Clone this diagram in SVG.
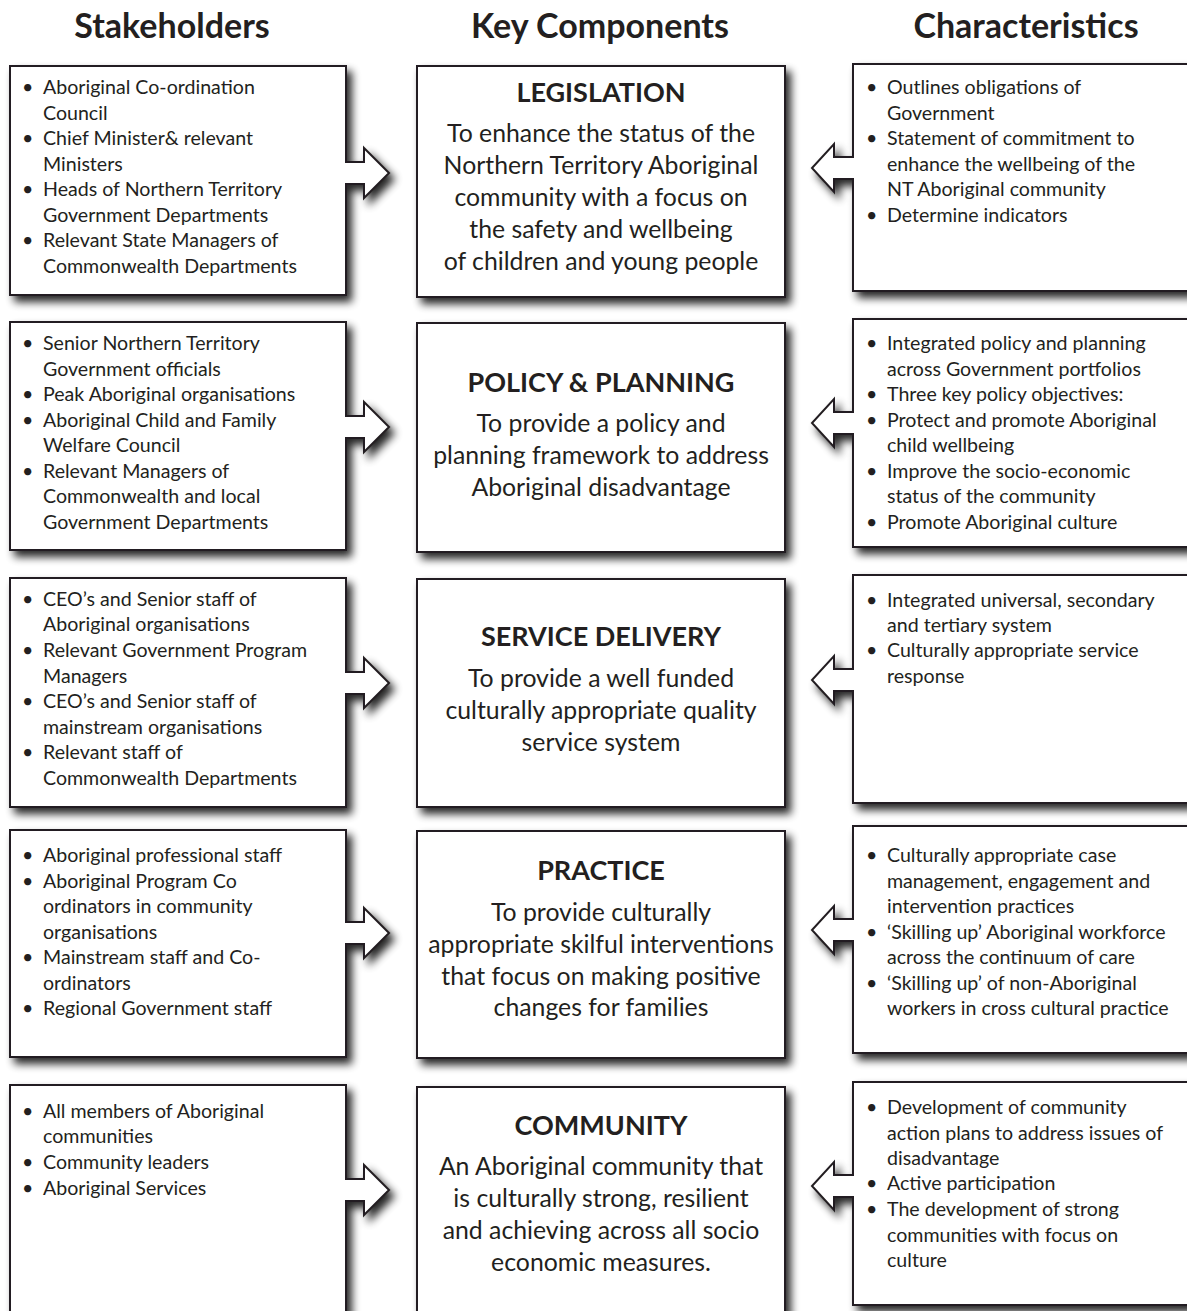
<svg xmlns="http://www.w3.org/2000/svg" width="1187" height="1311" viewBox="0 0 1187 1311">
<defs>
<filter id="sh" x="-10%" y="-10%" width="125%" height="125%">
<feGaussianBlur in="SourceAlpha" stdDeviation="4.5"/>
<feOffset dx="5" dy="6" result="b"/>
<feComponentTransfer><feFuncA type="linear" slope="0.85"/></feComponentTransfer>
<feMerge><feMergeNode/><feMergeNode in="SourceGraphic"/></feMerge>
</filter>
</defs>
<style>
.box{fill:#fff;stroke:#231f20;stroke-width:2;filter:url(#sh)}
text{font-family:Lato,"Open Sans","Liberation Sans",sans-serif;fill:#231f20}
.hd{font-size:34px;font-weight:bold;text-anchor:middle}
.li{font-size:19.6px}
.ti{font-size:27px;font-weight:bold;text-anchor:middle}
.bd{font-size:24.8px;text-anchor:middle}
</style>
<rect width="1187" height="1311" fill="#fff"/>
<g id="headers">
<text class="hd" x="172" y="38">Stakeholders</text>
<text class="hd" x="600" y="38">Key Components</text>
<text class="hd" x="1026" y="38">Characteristics</text>
</g>
<g id="connectors">
<path class="box" d="M10,66 H346 V162 H364 V148 L389,173 L364,198 V184 H346 V295 H10 Z"/>
<path class="box" d="M10,322 H346 V416 H364 V402 L389,427 L364,452 V438 H346 V550 H10 Z"/>
<path class="box" d="M10,578 H346 V672 H364 V658 L389,683 L364,708 V694 H346 V807 H10 Z"/>
<path class="box" d="M10,830 H346 V922 H364 V908 L389,933 L364,958 V944 H346 V1057 H10 Z"/>
<path class="box" d="M10,1085 H346 V1179 H364 V1165 L389,1190 L364,1215 V1201 H346 V1330 H10 Z"/>
<path class="box" d="M1192,64 H853 V157 H834 V144 L812,168 L834,192 V179 H853 V291 H1192 Z"/>
<path class="box" d="M1192,319 H853 V412 H834 V399 L812,423 L834,447 V434 H853 V547 H1192 Z"/>
<path class="box" d="M1192,575 H853 V669 H834 V656 L812,680 L834,704 V691 H853 V803 H1192 Z"/>
<path class="box" d="M1192,826 H853 V919 H834 V906 L812,930 L834,954 V941 H853 V1053 H1192 Z"/>
<path class="box" d="M1192,1082 H853 V1175 H834 V1162 L812,1186 L834,1210 V1197 H853 V1305 H1192 Z"/>
</g>
<g id="legislation">
<rect class="box" x="417" y="66" width="368" height="231"/>
<text class="ti" x="601" y="102">LEGISLATION</text>
<text class="bd" x="601" y="142">To enhance the status of the</text>
<text class="bd" x="601" y="174">Northern Territory Aboriginal</text>
<text class="bd" x="601" y="206">community with a focus on</text>
<text class="bd" x="601" y="238">the safety and wellbeing</text>
<text class="bd" x="601" y="270">of children and young people</text>
</g>
<g id="policy">
<rect class="box" x="417" y="323" width="368" height="229"/>
<text class="ti" x="601" y="392">POLICY &amp; PLANNING</text>
<text class="bd" x="601" y="432">To provide a policy and</text>
<text class="bd" x="601" y="464">planning framework to address</text>
<text class="bd" x="601" y="496">Aboriginal disadvantage</text>
</g>
<g id="service">
<rect class="box" x="417" y="579" width="368" height="228"/>
<text class="ti" x="601" y="646">SERVICE DELIVERY</text>
<text class="bd" x="601" y="687">To provide a well funded</text>
<text class="bd" x="601" y="719">culturally appropriate quality</text>
<text class="bd" x="601" y="751">service system</text>
</g>
<g id="practice">
<rect class="box" x="417" y="831" width="368" height="227"/>
<text class="ti" x="601" y="880">PRACTICE</text>
<text class="bd" x="601" y="921">To provide culturally</text>
<text class="bd" x="601" y="953">appropriate skilful interventions</text>
<text class="bd" x="601" y="985">that focus on making positive</text>
<text class="bd" x="601" y="1016">changes for families</text>
</g>
<g id="community">
<rect class="box" x="417" y="1087" width="368" height="243"/>
<text class="ti" x="601" y="1135">COMMUNITY</text>
<text class="bd" x="601" y="1175">An Aboriginal community that</text>
<text class="bd" x="601" y="1207">is culturally strong, resilient</text>
<text class="bd" x="601" y="1239">and achieving across all socio</text>
<text class="bd" x="601" y="1271">economic measures.</text>
</g>
<g id="stakeholders-1" class="li">
<text x="22" y="94">•</text><text x="43" y="94">Aboriginal Co-ordination</text>
<text x="43" y="120">Council</text>
<text x="22" y="145">•</text><text x="43" y="145">Chief Minister&amp; relevant</text>
<text x="43" y="171">Ministers</text>
<text x="22" y="196">•</text><text x="43" y="196">Heads of Northern Territory</text>
<text x="43" y="222">Government Departments</text>
<text x="22" y="247">•</text><text x="43" y="247">Relevant State Managers of</text>
<text x="43" y="273">Commonwealth Departments</text>
</g>
<g id="stakeholders-2" class="li">
<text x="22" y="350">•</text><text x="43" y="350">Senior Northern Territory</text>
<text x="43" y="376">Government officials</text>
<text x="22" y="401">•</text><text x="43" y="401">Peak Aboriginal organisations</text>
<text x="22" y="427">•</text><text x="43" y="427">Aboriginal Child and Family</text>
<text x="43" y="452">Welfare Council</text>
<text x="22" y="478">•</text><text x="43" y="478">Relevant Managers of</text>
<text x="43" y="503">Commonwealth and local</text>
<text x="43" y="529">Government Departments</text>
</g>
<g id="stakeholders-3" class="li">
<text x="22" y="606">•</text><text x="43" y="606">CEO’s and Senior staff of</text>
<text x="43" y="631">Aboriginal organisations</text>
<text x="22" y="657">•</text><text x="43" y="657">Relevant Government Program</text>
<text x="43" y="683">Managers</text>
<text x="22" y="708">•</text><text x="43" y="708">CEO’s and Senior staff of</text>
<text x="43" y="734">mainstream organisations</text>
<text x="22" y="759">•</text><text x="43" y="759">Relevant staff of</text>
<text x="43" y="785">Commonwealth Departments</text>
</g>
<g id="stakeholders-4" class="li">
<text x="22" y="862">•</text><text x="43" y="862">Aboriginal professional staff</text>
<text x="22" y="888">•</text><text x="43" y="888">Aboriginal Program Co</text>
<text x="43" y="913">ordinators in community</text>
<text x="43" y="939">organisations</text>
<text x="22" y="964">•</text><text x="43" y="964">Mainstream staff and Co-</text>
<text x="43" y="990">ordinators</text>
<text x="22" y="1015">•</text><text x="43" y="1015">Regional Government staff</text>
</g>
<g id="stakeholders-5" class="li">
<text x="22" y="1118">•</text><text x="43" y="1118">All members of Aboriginal</text>
<text x="43" y="1143">communities</text>
<text x="22" y="1169">•</text><text x="43" y="1169">Community leaders</text>
<text x="22" y="1195">•</text><text x="43" y="1195">Aboriginal Services</text>
</g>
<g id="characteristics-1" class="li">
<text x="866" y="94">•</text><text x="887" y="94">Outlines obligations of</text>
<text x="887" y="120">Government</text>
<text x="866" y="145">•</text><text x="887" y="145">Statement of commitment to</text>
<text x="887" y="171">enhance the wellbeing of the</text>
<text x="887" y="196">NT Aboriginal community</text>
<text x="866" y="222">•</text><text x="887" y="222">Determine indicators</text>
</g>
<g id="characteristics-2" class="li">
<text x="866" y="350">•</text><text x="887" y="350">Integrated policy and planning</text>
<text x="887" y="376">across Government portfolios</text>
<text x="866" y="401">•</text><text x="887" y="401">Three key policy objectives:</text>
<text x="866" y="427">•</text><text x="887" y="427">Protect and promote Aboriginal</text>
<text x="887" y="452">child wellbeing</text>
<text x="866" y="478">•</text><text x="887" y="478">Improve the socio-economic</text>
<text x="887" y="503">status of the community</text>
<text x="866" y="529">•</text><text x="887" y="529">Promote Aboriginal culture</text>
</g>
<g id="characteristics-3" class="li">
<text x="866" y="607">•</text><text x="887" y="607">Integrated universal, secondary</text>
<text x="887" y="632">and tertiary system</text>
<text x="866" y="657">•</text><text x="887" y="657">Culturally appropriate service</text>
<text x="887" y="683">response</text>
</g>
<g id="characteristics-4" class="li">
<text x="866" y="862">•</text><text x="887" y="862">Culturally appropriate case</text>
<text x="887" y="888">management, engagement and</text>
<text x="887" y="913">intervention practices</text>
<text x="866" y="939">•</text><text x="887" y="939">‘Skilling up’ Aboriginal workforce</text>
<text x="887" y="964">across the continuum of care</text>
<text x="866" y="990">•</text><text x="887" y="990">‘Skilling up’ of non-Aboriginal</text>
<text x="887" y="1015">workers in cross cultural practice</text>
</g>
<g id="characteristics-5" class="li">
<text x="866" y="1114">•</text><text x="887" y="1114">Development of community</text>
<text x="887" y="1140">action plans to address issues of</text>
<text x="887" y="1165">disadvantage</text>
<text x="866" y="1190">•</text><text x="887" y="1190">Active participation</text>
<text x="866" y="1216">•</text><text x="887" y="1216">The development of strong</text>
<text x="887" y="1242">communities with focus on</text>
<text x="887" y="1267">culture</text>
</g>
</svg>
